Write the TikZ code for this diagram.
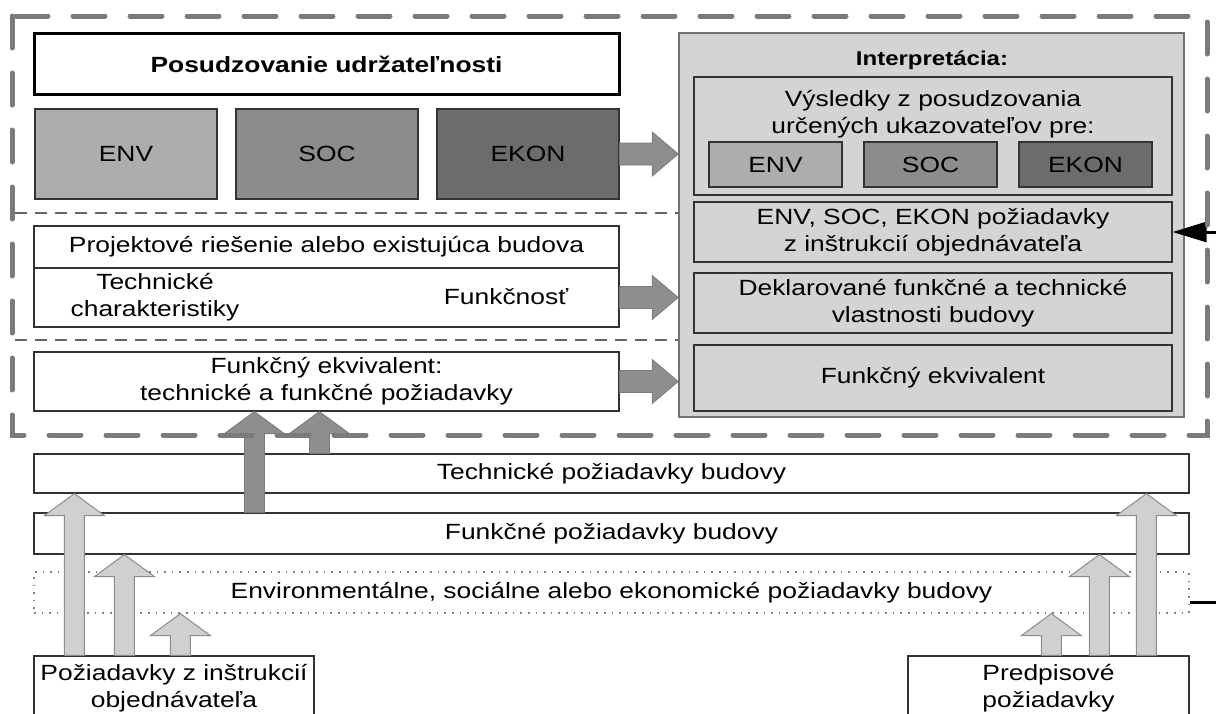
\documentclass[tikz,border=0pt]{standalone}
\usepackage{fontspec}
\setmainfont[FakeStretch=1.2]{Liberation Sans}
\usetikzlibrary{calc,arrows.meta}

\definecolor{envgray}{HTML}{ADADAD}
\definecolor{socgray}{HTML}{8C8C8C}
\definecolor{ekongray}{HTML}{6C6C6C}
\definecolor{panelgray}{HTML}{D4D4D4}
\definecolor{arrgray}{HTML}{8E8E8E}
\definecolor{lightarr}{HTML}{D0D0D0}
\definecolor{framegray}{HTML}{7A7A7A}

\tikzset{
  txt/.style={align=center, font=\fontsize{11}{13.5}\selectfont},
  box/.style={txt, draw=black!80, line width=0.6pt, fill=white, inner sep=0pt},
  pbox/.style={box, fill=panelgray},
  lbox/.style={box, minimum width=292.5pt},
  wbox/.style={box, minimum width=577.5pt},
  framedash/.style={draw=framegray, line width=2.5pt, line cap=round, dash pattern=on 16pt off 12.5pt},
  sepline/.style={draw=black!60, line width=0.6pt, dash pattern=on 6pt off 4pt},
  blackline/.style={draw=black, line width=1.5pt},
  darkarr/.style={fill=arrgray, draw=arrgray!85!black, line width=0.4pt},
  lightarr/.style={fill=lightarr, draw=black!45, line width=0.5pt}
}

% Blokove sipky
\newcommand\blockup[3]{%
  \filldraw[#1] let \p1=#2, \p2=#3 in
    (\x1-5pt,\y1) -- (\x1-5pt,\y2-11pt) -- (\x1-15pt,\y2-11pt) -- (\x1,\y2)
    -- (\x1+15pt,\y2-11pt) -- (\x1+5pt,\y2-11pt) -- (\x1+5pt,\y1) -- cycle;}
\newcommand\blockright[3]{%
  \filldraw[#1] let \p1=#2, \p2=#3 in
    (\x1,\y1-5.5pt) -- (\x2-13pt,\y1-5.5pt) -- (\x2-13pt,\y1-11pt) -- (\x2,\y1)
    -- (\x2-13pt,\y1+11pt) -- (\x2-13pt,\y1+5.5pt) -- (\x1,\y1+5.5pt) -- cycle;}

\begin{document}
\begin{tikzpicture}[x=0.5pt,y=-0.5pt]
  \useasboundingbox (0,0) rectangle (1216,713);
  \clip (0,0) rectangle (1216,713);
  \draw[sepline] (15,213) -- (679,213);
  \draw[sepline] (15,340) -- (679,340);
  % Posudzovanie
  \node[lbox, draw=black, line width=1.5pt, minimum height=30.5pt, font=\bfseries\fontsize{11}{13.5}\selectfont] (title) at (326.5,64) {Posudzovanie udržateľnosti};
  \node[box, fill=envgray, minimum width=91pt, minimum height=45pt] (env) at (126,154) {ENV};
  \node[box, fill=socgray, minimum width=91pt, minimum height=45pt] (soc) at (327,154) {SOC};
  \node[box, fill=ekongray, minimum width=91pt, minimum height=45pt] (ekon) at (528,154) {EKON};
  % Projekt
  \node[lbox, minimum height=21pt] (projtop) at (326.5,247) {Projektové riešenie alebo existujúca budova};
  \node[lbox, minimum height=29.5pt] (projbot) at (326.5,297.5) {};
  \node[txt] (techch) at (155,297) {Technické\\charakteristiky};
  \node[txt] (funk) at (506,297) {Funkčnosť};
  \node[lbox, minimum height=29.5pt] (fekv) at (326.5,381.5) {Funkčný ekvivalent:\\technické a funkčné požiadavky};
  % Interpretacia
  \node[draw=black!55, fill=panelgray, line width=0.8pt, minimum width=252.5pt, minimum height=192pt] (panel) at (931.5,225) {};
  \node[font=\bfseries\fontsize{10}{12}\selectfont] (interp) at (932,60) {Interpretácia:};
  \node[pbox, minimum width=239pt, minimum height=59pt] (vysl) at (933,136) {};
  \node[txt] (vysltext) at (933,114) {Výsledky z posudzovania\\určených ukazovateľov pre:};
  \node[pbox, fill=envgray, minimum width=66.5pt, minimum height=22.5pt] (env2) at (775.5,164.5) {ENV};
  \node[pbox, fill=socgray, minimum width=66.5pt, minimum height=22.5pt] (soc2) at (930.5,164.5) {SOC};
  \node[pbox, fill=ekongray, minimum width=66.5pt, minimum height=22.5pt] (ekon2) at (1085.5,164.5) {EKON};
  \node[pbox, minimum width=239pt, minimum height=30pt] (reqs) at (933,232) {ENV, SOC, EKON požiadavky\\z inštrukcií objednávateľa};
  \node[pbox, minimum width=239pt, minimum height=30pt] (dekl) at (933,303) {Deklarované funkčné a technické\\vlastnosti budovy};
  \node[pbox, minimum width=239pt, minimum height=33pt] (fekv2) at (933,378) {Funkčný ekvivalent};
  % Poziadavky budovy
  \node[wbox, minimum height=19.5pt] (tech) at (611.5,473.5) {Technické požiadavky budovy};
  \node[wbox, minimum height=20.5pt] (func) at (611.5,533.5) {Funkčné požiadavky budovy};
  \node[wbox, draw=black!50, dash pattern=on 0.8pt off 3pt, minimum height=20.5pt] (envreq) at (611.5,592.5) {Environmentálne, sociálne alebo ekonomické požiadavky budovy};
  \node[box, minimum width=140pt, minimum height=32pt] (custreq) at (174,688) {Požiadavky z inštrukcií\\objednávateľa};
  \node[box, minimum width=140.5pt, minimum height=32pt] (presc) at (1048.5,688) {Predpisové\\požiadavky};
  % Sipky doprava
  \blockright{darkarr}{(ekon.east)}{(panel.west)}
  \blockright{darkarr}{(projbot.east)}{(panel.west)}
  \blockright{darkarr}{(fekv.east)}{(panel.west)}
  % Sipky hore
  \blockup{darkarr}{($(func.north west)+(221,0)$)}{(fekv.south)}
  \blockup{darkarr}{($(tech.north west)+(286,0)$)}{(fekv.south)}
  \blockup{lightarr}{($(custreq.north west)+(41,0)$)}{(tech.south)}
  \blockup{lightarr}{($(custreq.north west)+(91,0)$)}{(func.south)}
  \blockup{lightarr}{($(custreq.north west)+(147,0)$)}{(envreq.south)}
  \blockup{lightarr}{($(presc.north west)+(144,0)$)}{(envreq.south)}
  \blockup{lightarr}{($(presc.north west)+(192,0)$)}{(func.south)}
  \blockup{lightarr}{($(presc.north west)+(239,0)$)}{(tech.south)}
  % Vstupy sprava
  \coordinate (reqin) at (1216,232);
  \coordinate (envin) at (1216,602);
  \draw[blackline, -{Triangle[length=17pt,width=10pt]}] (reqin) -- (reqs.east);
  \draw[blackline] (envin) -- (envin -| envreq.east);
  % Ramec
  \draw[framedash] (12,16) rectangle (1207,435);
\end{tikzpicture}
\end{document}
